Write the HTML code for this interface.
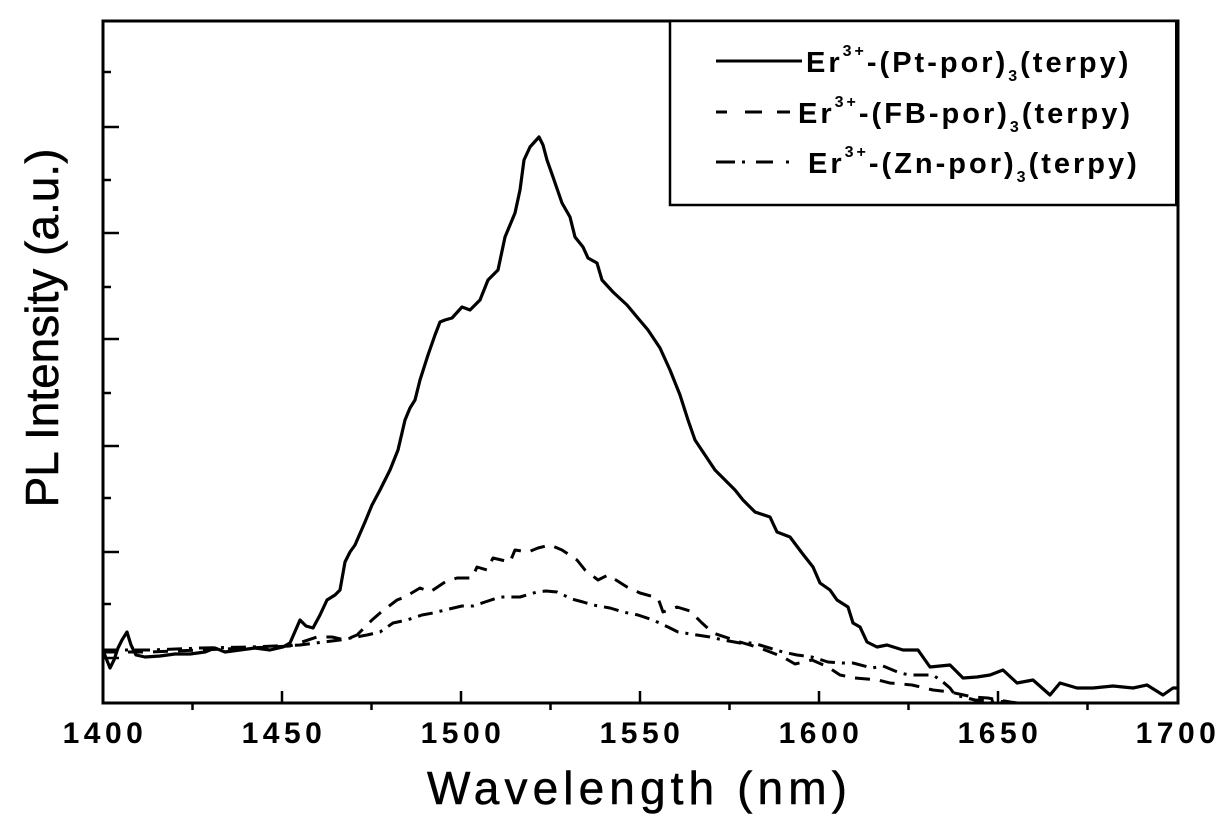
<!DOCTYPE html>
<html>
<head>
<meta charset="utf-8">
<style>
  html, body { margin: 0; padding: 0; background: #fff; }
  body { width: 1232px; height: 830px; overflow: hidden; }
  svg { display: block; }
  text { font-family: "Liberation Sans", Arial, sans-serif; fill: #000; }
</style>
</head>
<body>
<svg width="1232" height="830" viewBox="0 0 1232 830" xmlns="http://www.w3.org/2000/svg">
  <rect x="0" y="0" width="1232" height="830" fill="#fff"/>

  <!-- Series: FB dashed -->
  <polyline fill="none" stroke="#000" stroke-width="3" stroke-dasharray="15 10" stroke-linejoin="round"
    points="103,652 150,652 200,650 250,648 290,646 317,637 332,637 345,640 357,635 372,620 380,613 397,600 405,597 420,588 430,592 445,582 457,578 472,578 477,567 487,570 493,558 510,562 515,550 528,552 538,548 550,545 562,550 577,560 585,570 598,580 608,575 627,587 640,593 658,598 663,612 677,607 690,611 702,623 713,633 740,642 760,648 783,657 795,664 812,660 828,667 840,675 855,678 878,680 890,683 912,685 933,690 950,692 973,697 988,698 1010,702 1018,703"/>

  <!-- Series: Zn dash-dot -->
  <polyline fill="none" stroke="#000" stroke-width="3" stroke-dasharray="15 7 3 7" stroke-linejoin="round"
    points="103,650 150,650 200,648 250,647 300,645 340,640 367,635 380,632 393,623 407,620 422,615 433,613 445,610 462,606 473,606 485,602 500,597 510,597 520,597 537,592 546,591 557,592 572,599 583,602 593,605 610,608 623,612 638,615 653,620 668,627 678,632 697,635 710,637 723,640 740,643 753,643 783,652 797,655 812,657 828,662 842,663 853,663 872,668 883,666 900,673 910,675 922,675 933,675 943,682 950,688 955,695 975,700 1010,702"/>

  <!-- Series: Pt solid -->
  <polyline fill="none" stroke="#000" stroke-width="3.2" stroke-linejoin="round"
    points="103,650 106,658 110,668 114,660 118,648 122,640 127,632 131,645 136,655 145,657 160,656 175,654 190,654 205,652 215,648 225,652 240,650 255,648 270,650 283,647 290,643 300,620 306,626 313,628 320,615 327,600 335,595 340,590 345,562 350,552 355,545 365,522 372,505 380,490 390,470 398,450 405,420 410,408 415,400 420,380 428,355 435,335 440,322 445,320 452,318 462,307 470,310 480,300 488,280 498,270 505,237 510,225 515,213 520,190 524,160 530,147 539,137 543,145 547,160 553,177 562,203 570,217 575,237 583,247 588,258 597,263 602,280 613,292 627,305 637,317 648,330 660,348 670,370 680,395 688,420 695,440 705,455 715,470 725,480 735,490 743,500 755,512 770,517 777,532 790,537 802,553 813,567 820,583 830,590 837,600 848,607 853,623 860,627 867,642 877,647 887,645 903,650 918,650 930,667 950,665 963,678 977,677 990,675 1003,670 1017,683 1033,680 1050,695 1060,683 1077,688 1093,688 1113,686 1133,688 1147,685 1163,695 1173,688 1177,688"/>

  <!-- Axes frame -->
  <rect x="103" y="21" width="1075" height="682" fill="none" stroke="#000" stroke-width="3"/>

  <!-- Left ticks -->
  <g stroke="#000" stroke-width="2.5">
    <line x1="103" y1="127" x2="119" y2="127"/>
    <line x1="103" y1="233" x2="119" y2="233"/>
    <line x1="103" y1="339" x2="119" y2="339"/>
    <line x1="103" y1="446" x2="119" y2="446"/>
    <line x1="103" y1="552" x2="119" y2="552"/>
    <line x1="103" y1="658" x2="119" y2="658"/>
    <line x1="103" y1="72" x2="111" y2="72"/>
    <line x1="103" y1="180" x2="111" y2="180"/>
    <line x1="103" y1="287" x2="111" y2="287"/>
    <line x1="103" y1="393" x2="111" y2="393"/>
    <line x1="103" y1="498" x2="111" y2="498"/>
    <line x1="103" y1="604" x2="111" y2="604"/>
  </g>

  <!-- Bottom ticks -->
  <g stroke="#000" stroke-width="2.5">
    <line x1="282" y1="703" x2="282" y2="691"/>
    <line x1="461" y1="703" x2="461" y2="691"/>
    <line x1="640" y1="703" x2="640" y2="691"/>
    <line x1="819" y1="703" x2="819" y2="691"/>
    <line x1="998" y1="703" x2="998" y2="691"/>
    <line x1="192.5" y1="703" x2="192.5" y2="710"/>
    <line x1="371.5" y1="703" x2="371.5" y2="710"/>
    <line x1="550.5" y1="703" x2="550.5" y2="710"/>
    <line x1="729.5" y1="703" x2="729.5" y2="710"/>
    <line x1="908.5" y1="703" x2="908.5" y2="710"/>
    <line x1="1087.5" y1="703" x2="1087.5" y2="710"/>
  </g>

  <!-- Tick labels -->
  <g font-size="30" font-weight="bold" letter-spacing="4.5" text-anchor="middle">
    <text x="105" y="743">1400</text>
    <text x="284" y="743">1450</text>
    <text x="463" y="743">1500</text>
    <text x="642" y="743">1550</text>
    <text x="821" y="743">1600</text>
    <text x="1000" y="743">1650</text>
    <text x="1178" y="743">1700</text>
  </g>

  <!-- Axis titles -->
  <text x="427" y="804" font-size="46" letter-spacing="5.1" stroke="#000" stroke-width="0.5">Wavelength (nm)</text>
  <text transform="translate(58,328) rotate(-90)" text-anchor="middle" font-size="46" stroke="#000" stroke-width="0.5">PL Intensity (a.u.)</text>

  <!-- Legend -->
  <rect x="670" y="21" width="507" height="184" fill="#fff" stroke="#000" stroke-width="2.5"/>
  <rect x="1175" y="21" width="3" height="184" fill="#000"/>

  <line x1="716" y1="61" x2="802" y2="61" stroke="#000" stroke-width="3"/>
  <g stroke="#000" stroke-width="3">
    <line x1="716" y1="112" x2="727" y2="112"/>
    <line x1="745" y1="112" x2="762" y2="112"/>
    <line x1="777" y1="112" x2="790" y2="112"/>
    <line x1="716" y1="162" x2="735" y2="162"/>
    <line x1="742" y1="162" x2="745" y2="162"/>
    <line x1="756" y1="162" x2="773" y2="162"/>
    <line x1="786" y1="162" x2="789" y2="162"/>
  </g>

  <g font-size="29" font-weight="bold" letter-spacing="3">
    <text x="806" y="72">Er<tspan y="56" font-size="16">3+</tspan><tspan y="72">-(Pt-por)</tspan><tspan y="81" font-size="16">3</tspan><tspan y="72">(terpy)</tspan></text>
    <text x="798" y="123">Er<tspan y="107" font-size="16">3+</tspan><tspan y="123">-(FB-por)</tspan><tspan y="132" font-size="16">3</tspan><tspan y="123">(terpy)</tspan></text>
    <text x="808" y="173">Er<tspan y="157" font-size="16">3+</tspan><tspan y="173">-(Zn-por)</tspan><tspan y="182" font-size="16">3</tspan><tspan y="173">(terpy)</tspan></text>
  </g>
</svg>
</body>
</html>
